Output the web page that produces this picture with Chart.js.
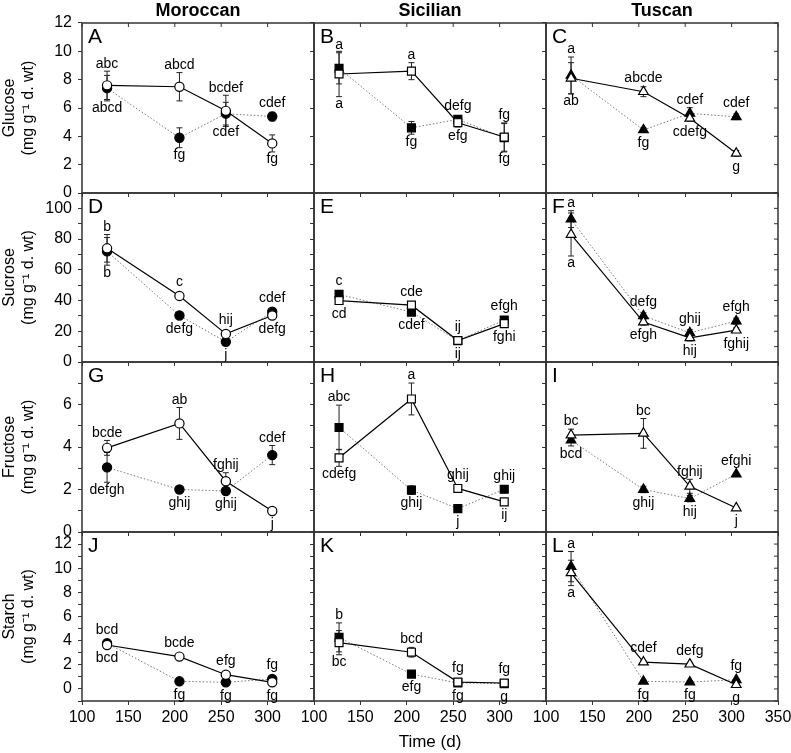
<!DOCTYPE html>
<html><head><meta charset="utf-8">
<script src="https://cdn.jsdelivr.net/npm/chart.js@4"></script>
<style>
html,body{margin:0;padding:0;background:#fff;overflow:hidden;width:791px;height:753px;}
#wrap{position:relative;width:791px;height:753px;}
canvas{position:absolute;}
</style></head><body><div id="wrap"></div>
<script>
// ---------- data ----------
const days = [127, 205, 255, 305];
const cultivars = ['Moroccan', 'Sicilian', 'Tuscan'];
const sugars = ['Glucose', 'Sucrose', 'Fructose', 'Starch'];
const unitLabel = '(mg g\u207B\u00B9 d. wt)';
const panelLetters = ['A','B','C','D','E','F','G','H','I','J','K','L'];
const timeTicks = [100, 150, 200, 250, 300, 350];
const glucoseTicks = [0, 2, 4, 6, 8, 10, 12];
const sucroseTicks = [0, 20, 40, 60, 80, 100];
const fructoseTicks = [0, 2, 4, 6];
const starchTicks = [0, 2, 4, 6, 8, 10, 12];

// [Moroccan, Sicilian, Tuscan] x days ; "open" = solid line, "filled" = dotted line
const glucoseOpen    = [[7.6, 7.5, 5.8, 3.5], [8.4, 8.6, 4.96, 3.95], [8.1, 7.15, 5.27, 2.8]];
const glucoseOpenSE  = [[1.0, 1.0, 1.1, 0.6], [1.6, 0.6, 0.3, 1.0], [1.1, 0.35, 0.2, 0.2]];
const glucoseFilled  = [[7.4, 3.9, 5.6, 5.4], [8.8, 4.6, 5.2, 3.9], [8.3, 4.45, 5.62, 5.38]];
const glucoseFilledSE= [[0.9, 0.7, 0.8, 0.3], [1.1, 0.45, 0.2, 1.0], [1.3, 0.15, 0.4, 0.2]];
const glucoseOpenLetters   = [['abc','abcd','bcdef','fg'], ['a','a','efg','fg'], ['ab','abcde','cdefg','g']];
const glucoseFilledLetters = [['abcd','fg','cdef','cdef'], ['a','fg','defg','fg'], ['a','fg','cdef','cdef']];

const sucroseOpen    = [[74, 43, 18.3, 30.3], [40, 37, 14, 25], [83, 26, 15.7, 20.7]];
const sucroseOpenSE  = [[9, 1.5, 2, 1.5], [1.5, 1.5, 1.5, 1.5], [14, 2, 2, 1.5]];
const sucroseFilled  = [[72, 30.3, 13.1, 32.7], [44, 32.5, 13.9, 27.3], [93, 30, 19, 26.6]];
const sucroseFilledSE= [[9, 1, 1, 1], [1.5, 1.5, 1, 1], [5.5, 2, 2, 2]];
const sucroseOpenLetters   = [['b','c','hij','defg'], ['cd','cde','ij','fghi'], ['a','efgh','hij','fghij']];
const sucroseFilledLetters = [['b','defg','j','cdef'], ['c','cdef','ij','efgh'], ['a','defg','ghij','efgh']];

const fructoseOpen    = [[3.96, 5.11, 2.39, 0.99], [3.49, 6.26, 2.05, 1.42], [4.56, 4.64, 2.15, 1.13]];
const fructoseOpenSE  = [[0.35, 0.75, 0.4, 0], [0.4, 0.75, 0, 0], [0.28, 0.7, 0.33, 0]];
const fructoseFilled  = [[3.04, 2.0, 1.93, 3.62], [4.92, 1.97, 1.1, 2.01], [4.32, 2.0, 1.57, 2.72]];
const fructoseFilledSE= [[0.7, 0.15, 0.1, 0.45], [1.05, 0.2, 0.15, 0.1], [0.27, 0.15, 0.15, 0]];
const fructoseOpenLetters   = [['bcde','ab','fghij','j'], ['cdefg','a','ghij','ij'], ['bc','bc','fghij','j']];
const fructoseFilledLetters = [['defgh','ghij','ghij','cdef'], ['abc','ghij','j','ghij'], ['bcd','ghij','hij','efghi']];

const starchOpen    = [[3.64, 2.68, 1.18, 0.55], [3.83, 3.04, 0.57, 0.49], [9.61, 2.22, 2.05, 0.35]];
const starchOpenSE  = [[0.15, 0.15, 0.1, 0.1], [1.0, 0.4, 0.1, 0.1], [1.05, 0.1, 0.1, 0.1]];
const starchFilled  = [[3.78, 0.63, 0.55, 0.82], [4.27, 1.23, 0.5, 0.44], [10.13, 0.63, 0.57, 0.76]];
const starchFilledSE= [[0.15, 0.1, 0.1, 0.1], [1.2, 0.1, 0.1, 0.1], [1.25, 0.1, 0.1, 0.1]];
const starchOpenLetters   = [['bcd','bcde','efg','fg'], ['bc','bcd','fg','fg'], ['a','cdef','defg','g']];
const starchFilledLetters = [['bcd','fg','fg','fg'], ['b','efg','fg','g'], ['a','fg','fg','fg']];

// ---------- layout / style ----------
const FONT = "'Liberation Sans', Arial, Helvetica, sans-serif";
Chart.defaults.font.family = FONT;
Chart.defaults.color = '#000';
const PLOT_L = [82, 314, 546], PLOT_W = 232;
const PLOT_T = [23, 193, 362, 532], PLOT_B = [193, 362, 532, 701];
const rows = [
  {min: 0, max: 12,  step: 2,  labels: glucoseTicks,  open: glucoseOpen,  openSE: glucoseOpenSE,  filled: glucoseFilled,  filledSE: glucoseFilledSE,  oL: glucoseOpenLetters,  fL: glucoseFilledLetters},
  {min: 0, max: 110, step: 10, labels: sucroseTicks,  open: sucroseOpen,  openSE: sucroseOpenSE,  filled: sucroseFilled,  filledSE: sucroseFilledSE,  oL: sucroseOpenLetters,  fL: sucroseFilledLetters},
  {min: 0, max: 8,   step: 1,  labels: fructoseTicks, open: fructoseOpen, openSE: fructoseOpenSE, filled: fructoseFilled, filledSE: fructoseFilledSE, oL: fructoseOpenLetters, fL: fructoseFilledLetters},
  {min: -1, max: 13, step: 1,  labels: starchTicks,   open: starchOpen,   openSE: starchOpenSE,   filled: starchFilled,   filledSE: starchFilledSE,   oL: starchOpenLetters,   fL: starchFilledLetters}
];
const markers = ['circle', 'rect', 'triangle'];
const markerR = [4.6, 5.6, 5.6];

const deco = {
  id: 'deco',
  beforeDatasetsDraw(chart) {
    const {ctx, scales: {x, y}} = chart;
    ctx.save();
    ctx.strokeStyle = '#222';
    ctx.lineWidth = 1;
    chart.data.datasets.forEach(ds => {
      ds.data.forEach((pt, i) => {
        const e = ds.errors[i];
        if (!e) return;
        const px = x.getPixelForValue(pt.x);
        const y1 = y.getPixelForValue(pt.y + e), y2 = y.getPixelForValue(pt.y - e);
        ctx.beginPath();
        ctx.moveTo(px, y1); ctx.lineTo(px, y2);
        ctx.moveTo(px - 3, y1); ctx.lineTo(px + 3, y1);
        ctx.moveTo(px - 3, y2); ctx.lineTo(px + 3, y2);
        ctx.stroke();
      });
    });
    ctx.restore();
  },
  afterDatasetsDraw(chart, args, opts) {
    const {ctx, chartArea: a, scales: {x, y}} = chart;
    ctx.save();
    // frame
    ctx.strokeStyle = '#333';
    ctx.lineWidth = 1.5;
    ctx.strokeRect(a.left, a.top, a.right - a.left, a.bottom - a.top);
    ctx.lineWidth = 1;
    ctx.beginPath();
    if (opts.top) x.ticks.forEach(t => { const px = x.getPixelForValue(t.value); ctx.moveTo(px, a.top); ctx.lineTo(px, a.top + 4); });
    if (opts.right) y.ticks.forEach(t => { const py = y.getPixelForValue(t.value); ctx.moveTo(a.right, py); ctx.lineTo(a.right - 4, py); });
    ctx.stroke();
    // significance letters
    ctx.fillStyle = '#000';
    ctx.font = '14px ' + FONT;
    ctx.textAlign = 'center';
    const sets = chart.data.datasets;
    sets.forEach((ds, k) => {
      const other = sets[1 - k];
      ds.data.forEach((pt, i) => {
        const isTop = k === 0 ? pt.y >= other.data[i].y : pt.y > other.data[i].y;
        const px = x.getPixelForValue(pt.x);
        const e = ds.errors[i] || 0;
        const r = 6;
        let yy;
        if (isTop) {
          ctx.textBaseline = 'bottom';
          yy = Math.min(y.getPixelForValue(pt.y + e), y.getPixelForValue(pt.y) - r) - 0.5;
        } else {
          ctx.textBaseline = 'top';
          yy = Math.max(y.getPixelForValue(pt.y - e), y.getPixelForValue(pt.y) + r) + 0.5;
        }
        ctx.fillText(ds.letters[i], px, yy);
      });
    });
    // panel letter
    ctx.font = '21px ' + FONT;
    ctx.textAlign = 'left';
    ctx.textBaseline = 'top';
    ctx.fillText(opts.letter, a.left + 6, a.top + 4);
    ctx.restore();
  }
};

const wrap = document.getElementById('wrap');
for (let r = 0; r < 4; r++) {
  for (let c = 0; c < 3; c++) {
    const R = rows[r];
    const yAxisW = c === 0 ? 82 : 8;
    const padL = c === 0 ? 0 : 14;
    const padR = 22;
    const padT = r === 0 ? 0 : 20;
    const titleH = r === 0 ? 23 : 0;
    const xAxisH = r === 3 ? 56 : 4;
    const padB = r === 3 ? 0 : 16;
    const leftExt = yAxisW + padL, topExt = padT + titleH, botExt = xAxisH + padB;
    const W = PLOT_W + leftExt + padR;
    const H = (PLOT_B[r] - PLOT_T[r]) + topExt + botExt;
    const cv = document.createElement('canvas');
    cv.width = W; cv.height = H;
    cv.style.left = (PLOT_L[c] - leftExt) + 'px';
    cv.style.top = (PLOT_T[r] - topExt) + 'px';
    cv.style.width = W + 'px'; cv.style.height = H + 'px';
    wrap.appendChild(cv);

    const mk = markers[c], mr = markerR[c];
    new Chart(cv, {
      type: 'scatter',
      data: {
        datasets: [
          {
            label: 'open',
            data: days.map((d, i) => ({x: d, y: R.open[c][i]})),
            errors: R.openSE[c], letters: R.oL[c],
            showLine: true, borderColor: '#000', borderWidth: 1.2,
            pointStyle: mk, pointRadius: mr, pointBackgroundColor: '#fff',
            pointBorderColor: '#000', pointBorderWidth: 1.2
          },
          {
            label: 'filled',
            data: days.map((d, i) => ({x: d, y: R.filled[c][i]})),
            errors: R.filledSE[c], letters: R.fL[c],
            showLine: true, borderColor: '#777', borderWidth: 1, borderDash: [1.5, 2],
            pointStyle: mk, pointRadius: mr, pointBackgroundColor: '#000',
            pointBorderColor: '#000', pointBorderWidth: 1.2
          }
        ]
      },
      options: {
        responsive: false, animation: false, devicePixelRatio: 1,
        layout: {padding: {left: padL, right: padR, top: padT, bottom: padB}},
        plugins: {
          legend: {display: false},
          tooltip: {enabled: false},
          title: {display: r === 0, text: cultivars[c], fullSize: false, color: '#000',
                  font: {family: FONT, size: 18, weight: 'bold'}, padding: {top: 0, bottom: 1.4}},
          deco: {letter: panelLetters[r * 3 + c], top: r === 0, right: c === 2}
        },
        scales: {
          x: {
            type: 'linear', position: 'bottom', min: 100, max: 350,
            ticks: {stepSize: 50, display: r === 3, autoSkip: false, maxRotation: 0, padding: 3,
                    font: {family: FONT, size: 16}, color: '#000',
                    callback: v => (timeTicks.includes(v) && (c === 2 || v < 350)) ? String(v) : ''},
            grid: {display: true, drawOnChartArea: false, drawTicks: true, tickLength: 4, tickColor: '#333'},
            border: {display: false},
            title: {display: r === 3 && c === 1, text: 'Time (d)', color: '#000',
                    font: {family: FONT, size: 17}, padding: {top: 0, bottom: 4}},
            afterFit: s => { s.height = xAxisH; }
          },
          y: {
            type: 'linear', position: 'left', min: R.min, max: R.max,
            ticks: {stepSize: R.step, display: c === 0, autoSkip: false, padding: 6,
                    font: {family: FONT, size: 16}, color: '#000',
                    callback: v => R.labels.includes(v) ? String(v) : ''},
            grid: {display: true, drawOnChartArea: false, drawTicks: true, tickLength: 4, tickColor: '#333'},
            border: {display: false},
            title: {display: c === 0, text: [sugars[r], unitLabel], color: '#000',
                    font: {family: FONT, size: 16}, padding: {top: 0, bottom: 0}},
            afterFit: s => { s.width = yAxisW; }
          }
        }
      },
      plugins: [deco]
    });
  }
}
</script>
</body></html>
